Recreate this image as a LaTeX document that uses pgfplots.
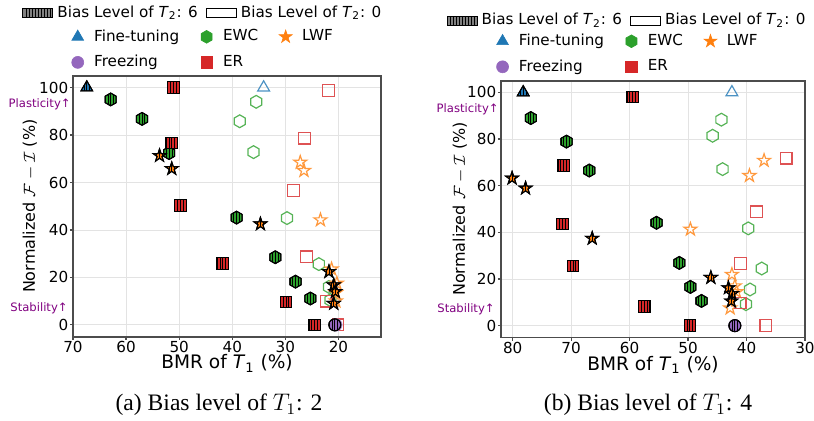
\documentclass[border=0pt]{standalone}
\usepackage{fontspec}
\setmainfont{DejaVu Sans}
\newfontfamily\capfont{Liberation Serif}
\usepackage{pgfplots}
\pgfplotsset{compat=1.18}

\definecolor{tabblue}{HTML}{1F77B4}
\definecolor{taborange}{HTML}{FF7F0E}
\definecolor{tabgreen}{HTML}{2CA02C}
\definecolor{tabred}{HTML}{D62728}
\definecolor{tabpurple}{HTML}{9467BD}
\definecolor{annot}{HTML}{800080}

% marker outlines (radius = mark size)
\newdimen\starin
\newcommand\pathtri{\pgfpathmoveto{\pgfpointpolar{90}{\pgfplotmarksize}}%
  \pgfpathlineto{\pgfpointpolar{210}{\pgfplotmarksize}}%
  \pgfpathlineto{\pgfpointpolar{330}{\pgfplotmarksize}}\pgfpathclose}
\newcommand\pathsq{\pgfpathrectangle{\pgfpoint{-\pgfplotmarksize}{-\pgfplotmarksize}}{\pgfpoint{2\pgfplotmarksize}{2\pgfplotmarksize}}}
\newcommand\pathcirc{\pgfpathcircle{\pgfpointorigin}{\pgfplotmarksize}}
\newcommand\pathhex{\pgfpathmoveto{\pgfpointpolar{90}{\pgfplotmarksize}}%
  \pgfpathlineto{\pgfpointpolar{150}{\pgfplotmarksize}}%
  \pgfpathlineto{\pgfpointpolar{210}{\pgfplotmarksize}}%
  \pgfpathlineto{\pgfpointpolar{270}{\pgfplotmarksize}}%
  \pgfpathlineto{\pgfpointpolar{330}{\pgfplotmarksize}}%
  \pgfpathlineto{\pgfpointpolar{30}{\pgfplotmarksize}}\pgfpathclose}
\newcommand\pathstar{\starin=0.382\pgfplotmarksize
  \pgfpathmoveto{\pgfpointpolar{90}{\pgfplotmarksize}}%
  \pgfpathlineto{\pgfpointpolar{126}{\starin}}%
  \pgfpathlineto{\pgfpointpolar{162}{\pgfplotmarksize}}%
  \pgfpathlineto{\pgfpointpolar{198}{\starin}}%
  \pgfpathlineto{\pgfpointpolar{234}{\pgfplotmarksize}}%
  \pgfpathlineto{\pgfpointpolar{270}{\starin}}%
  \pgfpathlineto{\pgfpointpolar{306}{\pgfplotmarksize}}%
  \pgfpathlineto{\pgfpointpolar{342}{\starin}}%
  \pgfpathlineto{\pgfpointpolar{18}{\pgfplotmarksize}}%
  \pgfpathlineto{\pgfpointpolar{54}{\starin}}\pgfpathclose}

% vertical hatch lines
\newcommand\hl[1]{\pgfpathmoveto{\pgfpoint{#1}{-6pt}}\pgfpathlineto{\pgfpoint{#1}{6pt}}}
\newcommand\hatch{\pgfsetlinewidth{0.35pt}\pgfsetstrokecolor{black}%
  \hl{-4.2pt}\hl{-2.8pt}\hl{-1.4pt}\hl{0pt}\hl{1.4pt}\hl{2.8pt}\hl{4.2pt}%
  \pgfusepath{stroke}}
\newcommand\hatchedmark[1]{#1\pgfusepathqfillstroke
  \begin{pgfscope}#1\pgfusepath{clip}\hatch\end{pgfscope}#1\pgfusepathqstroke}

\pgfdeclareplotmark{htri}{\hatchedmark\pathtri}
\pgfdeclareplotmark{hsq}{\hatchedmark\pathsq}
\pgfdeclareplotmark{hcirc}{\hatchedmark\pathcirc}
\pgfdeclareplotmark{hhex}{\hatchedmark\pathhex}
\pgfdeclareplotmark{hstar}{\hatchedmark\pathstar}
\pgfdeclareplotmark{otri}{\pathtri\pgfusepathqstroke}
\pgfdeclareplotmark{osq}{\pathsq\pgfusepathqstroke}
\pgfdeclareplotmark{ocirc}{\pathcirc\pgfusepathqstroke}
\pgfdeclareplotmark{ohex}{\pathhex\pgfusepathqstroke}
\pgfdeclareplotmark{ostar}{\pathstar\pgfusepathqstroke}
\pgfdeclareplotmark{ftri}{\pathtri\pgfusepathqfillstroke}
\pgfdeclareplotmark{fsq}{\pathsq\pgfusepathqfillstroke}
\pgfdeclareplotmark{fcirc}{\pathcirc\pgfusepathqfillstroke}
\pgfdeclareplotmark{fhex}{\pathhex\pgfusepathqfillstroke}
\pgfdeclareplotmark{fstar}{\pathstar\pgfusepathqfillstroke}

\pgfplotsset{
  hatched/.style={only marks, mark options={draw=black, fill=#1, line width=0.5pt, solid}},
  hollow/.style={only marks, mark options={draw=#1!80!white, line width=0.6pt, solid}},
  key/.style={only marks, mark options={draw=#1, fill=#1, line width=0.3pt, solid}},
  bmr/.style={
    scale only axis, x dir=reverse,
    ymin=-5, ymax=105, ytick={0,20,...,100},
    grid=major, grid style={line width=0.4pt, draw=gray!22},
    axis line style={line width=0.8pt, draw=black!70},
    tick align=outside, tick pos=left, major tick length=1.6pt,
    tick style={line width=0.6pt, draw=black!70},
    tick label style={font=\fontsize{7.6}{9}\selectfont, inner sep=0.6pt},
    xlabel style={font=\fontsize{9.3}{11}\selectfont, inner sep=0pt},
    ylabel style={font=\fontsize{8}{10}\selectfont},
    /pgf/number format/assume math mode=true,
    xlabel={BMR of \textit{T}\textsubscript{1} (\%)},
    ylabel={Normalized $\mathcal{F}-\mathcal{I}$ (\%)},
    clip=false,
    legend columns=3, legend cell align=left,
    legend style={draw=none, fill=none, font=\fontsize{7.6}{9}\selectfont, anchor=center,
      row sep=1.5pt, /tikz/every even column/.append style={column sep=5.5pt}},
    legend image code/.code={\path (0pt,0pt) (12pt,0pt);\draw[##1] plot coordinates {(6pt,0pt)};},
  },
  biaskey/.style={
    scale only axis, hide axis, xmin=0, xmax=1, ymin=0, ymax=1,
    legend columns=2,
    legend style={draw=none, fill=none, font=\fontsize{7.6}{9}\selectfont, anchor=center,
      /tikz/every even column/.append style={column sep=2pt}},
  },
}

\newcommand\biaslegend{%
  \addlegendimage{legend image code/.code={%
    \draw[fill=gray, line width=0.5pt] (0pt,-2.2pt) rectangle (15pt,2.2pt);
    \foreach \k in {1.5,3,...,13.5}{\draw[line width=0.35pt] (\k pt,-2.2pt)--(\k pt,2.2pt);}}}
  \addlegendentry{Bias Level of \textit{T}\textsubscript{2}: 6}
  \addlegendimage{legend image code/.code={%
    \draw[fill=white, line width=0.5pt] (0pt,-2.2pt) rectangle (15pt,2.2pt);}}
  \addlegendentry{Bias Level of \textit{T}\textsubscript{2}: 0}}

\newcommand\methodlegend{%
  \addlegendimage{key=tabblue, mark=ftri, mark size=3.4pt}\addlegendentry{Fine-tuning}
  \addlegendimage{key=tabgreen, mark=fhex, mark size=3.2pt}\addlegendentry{EWC}
  \addlegendimage{key=taborange, mark=fstar, mark size=3.4pt}\addlegendentry{LWF}
  \addlegendimage{key=tabpurple, mark=fcirc, mark size=3pt}\addlegendentry{Freezing}
  \addlegendimage{key=tabred, mark=fsq, mark size=2.9pt}\addlegendentry{ER}}

\begin{document}
\begin{tikzpicture}
\path[use as bounding box] (0,0) rectangle (407pt,-210pt);

% ---------------- (a) bias level of T1: 2 ----------------
\begin{axis}[biaskey, at={(36.5pt,-168.35pt)}, anchor=south west,
  width=154pt, height=130.5pt, legend style={at={(0.425,1.240)}}]
\biaslegend
\end{axis}

\begin{axis}[bmr, at={(36.5pt,-168.35pt)}, anchor=south west,
  width=154pt, height=130.5pt,
  xmin=12, xmax=70, xtick={20,30,...,70},
  xlabel style={at={(axis description cs:0.5,-0.102)}, anchor=center},
  ylabel style={at={(axis description cs:-0.140,0.5)}, anchor=center},
  legend style={at={(0.416,1.100)}}]
\methodlegend
% bias level of T2: 0
\addplot[forget plot, hollow=tabblue, mark=otri, mark size=3.4pt] coordinates {(34.1,100)};
\addplot[forget plot, hollow=tabgreen, mark=ohex, mark size=3.2pt] coordinates {
  (35.5,94) (38.6,85.8) (36.0,72.8) (29.7,45) (23.7,25.6) (21.8,16) (21.5,10.4)};
\addplot[forget plot, hollow=taborange, mark=ostar, mark size=3.4pt] coordinates {
  (27.2,68.5) (26.5,65) (23.4,44.2) (21.3,23.5) (20.3,17.5) (20.5,13.5) (20.5,10)};
\addplot[forget plot, hollow=tabred, mark=osq, mark size=2.9pt] coordinates {
  (21.9,98.7) (26.4,78.7) (28.5,56.6) (26.0,28.7) (22.3,10) (20.1,0)};
\addplot[forget plot, hollow=tabpurple, mark=ocirc, mark size=3pt] coordinates {(20.5,0)};
% bias level of T2: 6
\addplot[forget plot, hatched=tabblue, mark=htri, mark size=3.4pt] coordinates {(67.4,100)};
\addplot[forget plot, hatched=tabgreen, mark=hhex, mark size=3.2pt] coordinates {
  (62.9,95) (57.0,86.8) (51.9,72.4) (39.2,45.2) (31.9,28.5) (28.1,18.2) (25.3,11.1)};
\addplot[forget plot, hatched=tabred, mark=hsq, mark size=2.9pt] coordinates {
  (51.1,100) (51.4,76.6) (49.8,50.3) (41.8,25.9) (29.9,9.7) (24.5,0)};
\addplot[forget plot, hatched=taborange, mark=hstar, mark size=3.4pt] coordinates {
  (53.7,71.3) (51.4,65.8) (34.7,42.5) (21.8,22.4) (20.9,16.8) (20.6,14.0) (20.9,9.0)};
\addplot[forget plot, hatched=tabpurple, mark=hcirc, mark size=3pt] coordinates {(20.7,0)};
\node[anchor=east, inner sep=0pt, text=annot, font=\fontsize{5.8}{6}\selectfont, xshift=-1pt]
  at (axis cs:70,92.8) {Plasticity↑};
\node[anchor=east, inner sep=0pt, text=annot, font=\fontsize{5.8}{6}\selectfont, xshift=-2.5pt]
  at (axis cs:70,7) {Stability↑};
\end{axis}

% ---------------- (b) bias level of T1: 4 ----------------
\begin{axis}[biaskey, at={(250.5pt,-168.65pt)}, anchor=south west,
  width=152pt, height=128.3pt, legend style={at={(0.418,1.234)}}]
\biaslegend
\end{axis}

\begin{axis}[bmr, at={(250.5pt,-168.65pt)}, anchor=south west,
  width=152pt, height=128.3pt,
  xmin=30, xmax=82, xtick={30,40,...,80},
  xlabel style={at={(axis description cs:0.5,-0.109)}, anchor=center},
  ylabel style={at={(axis description cs:-0.135,0.5)}, anchor=center},
  legend style={at={(0.411,1.104)}}]
\methodlegend
% bias level of T2: 0
\addplot[forget plot, hollow=tabblue, mark=otri, mark size=3.4pt] coordinates {(42.5,100)};
\addplot[forget plot, hollow=tabgreen, mark=ohex, mark size=3.2pt] coordinates {
  (44.3,88.3) (45.8,81.4) (44.1,67.1) (39.7,41.7) (37.4,24.5) (39.4,15.5) (40.1,9.2)};
\addplot[forget plot, hollow=taborange, mark=ostar, mark size=3.4pt] coordinates {
  (37.0,70.8) (39.5,64.3) (49.6,41.3) (42.5,21.9) (42.0,17) (41.7,14.5) (42.8,7.5)};
\addplot[forget plot, hollow=tabred, mark=osq, mark size=2.9pt] coordinates {
  (33.2,71.8) (38.3,48.8) (41.0,26.6) (41.1,9.7) (36.7,0)};
\addplot[forget plot, hollow=tabpurple, mark=ocirc, mark size=3pt] coordinates {(42.0,0)};
% bias level of T2: 6
\addplot[forget plot, hatched=tabblue, mark=htri, mark size=3.4pt] coordinates {(78.2,100)};
\addplot[forget plot, hatched=tabgreen, mark=hhex, mark size=3.2pt] coordinates {
  (76.9,89) (70.8,78.9) (66.9,66.5) (55.4,44.1) (51.5,26.9) (49.6,16.6) (47.7,10.6)};
\addplot[forget plot, hatched=tabred, mark=hsq, mark size=2.9pt] coordinates {
  (59.5,98) (71.3,68.6) (71.5,43.5) (69.7,25.5) (57.5,8.3) (49.7,0)};
\addplot[forget plot, hatched=taborange, mark=hstar, mark size=3.4pt] coordinates {
  (80.1,63.2) (77.8,58.9) (66.4,37.4) (46.1,20.6) (43.1,16.2) (42.5,13.7) (42.6,10.5)};
\addplot[forget plot, hatched=tabpurple, mark=hcirc, mark size=3pt] coordinates {(42.0,0)};
\node[anchor=east, inner sep=0pt, text=annot, font=\fontsize{5.8}{6}\selectfont, xshift=-1pt]
  at (axis cs:82,92.9) {Plasticity↑};
\node[anchor=east, inner sep=0pt, text=annot, font=\fontsize{5.8}{6}\selectfont, xshift=-3pt]
  at (axis cs:82,7.1) {Stability↑};
\end{axis}

\node[font=\capfont\fontsize{11.8}{13}\selectfont] at (109.5pt,-202.5pt) {(a) Bias level of $T_1$: 2};
\node[font=\capfont\fontsize{11.8}{13}\selectfont] at (324pt,-202.5pt) {(b) Bias level of $T_1$: 4};
\end{tikzpicture}
\end{document}
